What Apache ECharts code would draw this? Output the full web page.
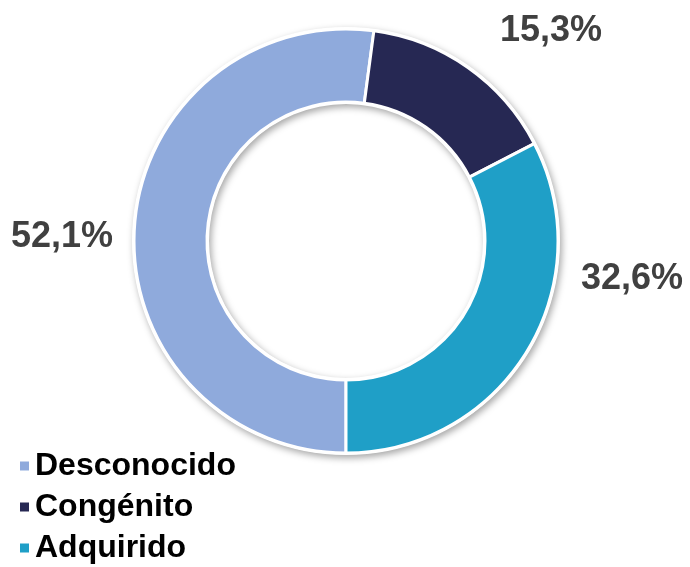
<!DOCTYPE html>
<html><head><meta charset="utf-8">
<script src="https://cdn.jsdelivr.net/npm/echarts@6/dist/echarts.min.js"></script>
<style>html,body{margin:0;padding:0;background:#fff}#c{width:690px;height:567px}</style>
</head><body><div id="c"></div>
<script>
const categories = ['Desconocido', 'Congénito', 'Adquirido'];
const values = [52.1, 15.3, 32.6];
const colors = ['#8FAADC', '#262853', '#1F9FC7'];
const labelPos = [[62, 237], [551, 31], [632, 279]];

const chart = echarts.init(document.getElementById('c'));
chart.setOption({
  animation: false,
  legend: {
    orient: 'vertical', left: 18, top: 450, height: 160, padding: 0,
    data: categories,
    icon: 'rect', itemWidth: 11, itemHeight: 11, itemGap: 9,
    textStyle: { fontFamily: 'Liberation Sans, Arial', fontWeight: 'bold', fontSize: 32, color: '#000' }
  },
  series: [
    {
      type: 'pie', silent: true, center: [346, 241], radius: [137, 214],
      startAngle: 270, label: { show: false }, labelLine: { show: false },
      itemStyle: { color: '#fff', shadowBlur: 7, shadowOffsetX: 2, shadowOffsetY: 3, shadowColor: 'rgba(0,0,0,0.35)' },
      data: [{ value: 1, name: '' }], legendHoverLink: false, z: 1
    },
    {
      type: 'pie', center: [346, 241], radius: [139, 212], startAngle: 270, clockwise: true,
      z: 2,
      itemStyle: { borderColor: '#fff', borderWidth: 3 },
      label: {
        show: true, position: 'outside', overflow: 'none', width: 200,
        formatter: p => p.value.toFixed(1).replace('.', ',') + '%',
        fontFamily: 'Liberation Sans, Arial', fontWeight: 'bold', fontSize: 36, color: '#404040'
      },
      labelLine: { show: false },
      labelLayout: p => ({ x: labelPos[p.dataIndex][0], y: labelPos[p.dataIndex][1], align: 'center', verticalAlign: 'middle' }),
      data: categories.map((n, i) => ({ name: n, value: values[i], itemStyle: { color: colors[i] } }))
    }
  ]
});
</script></body></html>
